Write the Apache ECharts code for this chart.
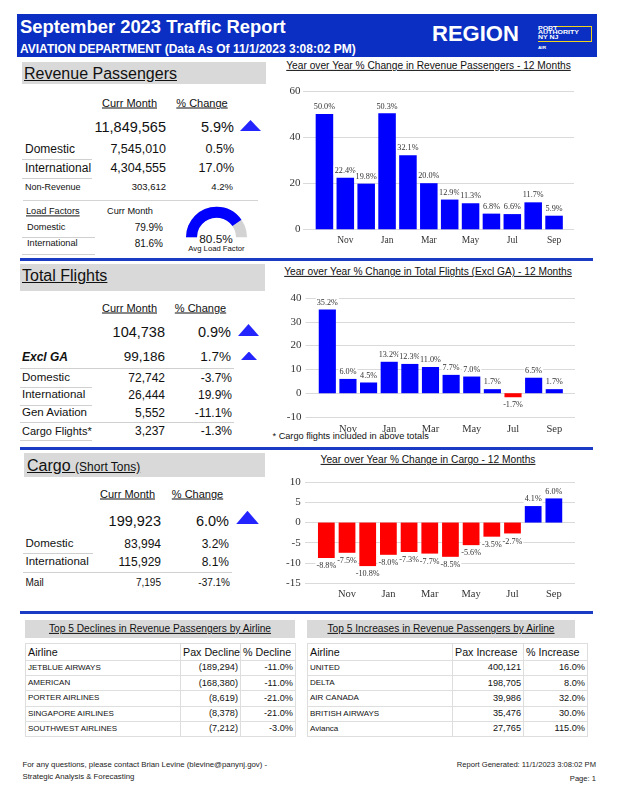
<!DOCTYPE html>
<html><head><meta charset="utf-8">
<script src="https://cdn.jsdelivr.net/npm/echarts@6/dist/echarts.min.js"></script>
<style>
html,body{margin:0;padding:0;background:#fff;}
#page{position:relative;width:618px;height:800px;overflow:hidden;font-family:'Liberation Sans',Arial,sans-serif;color:#111;}
.t{position:absolute;white-space:nowrap;line-height:1;}
.box{position:absolute;}
#c{position:absolute;left:0;top:0;width:618px;height:800px;}
table{border-collapse:collapse;table-layout:fixed;position:absolute;background:#fff;}
td{border:1.5px solid #dedede;padding:0 2px;overflow:hidden;white-space:nowrap;line-height:1;}
</style></head><body><div id="page"></div>
<script>
// ---------------- DATA ----------------
const months = ['Oct','Nov','Dec','Jan','Feb','Mar','Apr','May','Jun','Jul','Aug','Sep'];
const paxYoY = [50.0,22.4,19.8,50.3,32.1,20.0,12.9,11.3,6.8,6.6,11.7,5.9];
const flightsYoY = [35.2,6.0,4.5,13.2,12.3,11.0,7.7,7.0,1.7,-1.7,6.5,1.7];
const cargoYoY = [-8.8,-7.5,-10.8,-8.0,-7.3,-7.7,-8.5,-5.6,-3.5,-2.7,4.1,6.0];

const paxTotal = ['11,849,565','5.9%'];
const paxRowLabels = ['Domestic','International','Non-Revenue'];
const paxRowValues = ['7,545,010','4,304,555','303,612'];
const paxRowPct = ['0.5%','17.0%','4.2%'];
const loadFactorLabels = ['Domestic','International'];
const loadFactorValues = [79.9, 81.6];
const avgLoadFactor = 80.5;

const flightsTotal = ['104,738','0.9%'];
const flightsExclGA = ['99,186','1.7%'];
const flightRowLabels = ['Domestic','International','Gen Aviation','Cargo Flights*'];
const flightRowValues = ['72,742','26,444','5,552','3,237'];
const flightRowPct = ['-3.7%','19.9%','-11.1%','-1.3%'];

const cargoTotal = ['199,923','6.0%'];
const cargoRowLabels = ['Domestic','International','Mail'];
const cargoRowValues = ['83,994','115,929','7,195'];
const cargoRowPct = ['3.2%','8.1%','-37.1%'];

const declineAirlines = ['JETBLUE AIRWAYS','AMERICAN','PORTER AIRLINES','SINGAPORE AIRLINES','SOUTHWEST AIRLINES'];
const declinePax = [-189294,-168380,-8619,-8378,-7212];
const declinePct = [-11.0,-11.0,-21.0,-21.0,-3.0];
const increaseAirlines = ['UNITED','DELTA','AIR CANADA','BRITISH AIRWAYS','Avianca'];
const increasePax = [400121,198705,39986,35476,27765];
const increasePct = [16.0,8.0,32.0,30.0,115.0];

// ---------------- HELPERS ----------------
const page = document.getElementById('page');
function T(s, x, y, size, o) {
  o = o || {};
  const d = document.createElement('div'); d.className = 't'; d.textContent = s;
  d.style.left = x + 'px'; d.style.top = y + 'px'; d.style.fontSize = size + 'px';
  const a = o.align || 'left';
  const tx = a === 'left' ? '0' : a === 'right' ? '-100%' : '-50%';
  d.style.transform = 'translate(' + tx + ',-50%)' + (o.sx ? ' scaleX(' + o.sx + ')' : '');
  if (o.sx) d.style.transformOrigin = '0 50%';
  if (o.bold) d.style.fontWeight = 'bold';
  if (o.italic) d.style.fontStyle = 'italic';
  if (o.u) d.style.textDecoration = 'underline';
  if (o.color) d.style.color = o.color;
  page.appendChild(d); return d;
}
function R(x, y, w, h, c) {
  const d = document.createElement('div'); d.className = 'box';
  Object.assign(d.style, {left: x + 'px', top: y + 'px', width: w + 'px', height: h + 'px', background: c});
  page.appendChild(d); return d;
}
function tri(x1, x2, yTop, yBot) {
  const d = R(x1, yTop, x2 - x1, yBot - yTop, '#2424ff');
  d.style.clipPath = 'polygon(50% 0,100% 100%,0 100%)';
}
function hl(x1, x2, y, c, w) { R(x1, y, x2 - x1, w || 1, c || '#d0d0d0'); }
const fmtInt = n => Math.abs(n).toLocaleString('en-US');
const fmtPct = v => v.toFixed(1) + '%';

// ---------------- HEADER ----------------
const BLUE = '#0b2fc2';
R(17, 14, 580, 43, BLUE);
T('September 2023 Traffic Report', 20, 27, 18.4, {bold: true, color: '#fff'});
T('AVIATION DEPARTMENT (Data As Of 11/1/2023 3:08:02 PM)', 20, 48.5, 12, {bold: true, color: '#fff'});
T('REGION', 432, 34, 22, {bold: true, color: '#fff'});
// logo
const YEL = '#f0d21c';
R(553, 25.5, 39, 1.3, YEL);
R(590.7, 25.5, 1.3, 16, YEL);
R(538, 40.5, 54, 1.3, YEL);
T('PORT', 538, 27.6, 5, {bold: true, color: '#fff', sx: 1.4});
T('AUTHORITY', 538, 32.4, 5, {bold: true, color: '#fff', sx: 1.4});
T('NY NJ', 538, 37.1, 5, {bold: true, color: '#fff', sx: 1.4});
T('AIR', 538, 48.7, 3.6, {bold: true, color: '#fff', sx: 1.3});

// section separators
const SEP = '#1a3bc4';
R(20, 258, 573, 3, SEP);
R(20, 447, 573, 2.5, SEP);
R(20, 611, 573, 3, SEP);

// ---------------- REVENUE PASSENGERS ----------------
R(22, 62, 244, 22, '#d9d9d9');
T('Revenue Passengers', 24, 73.5, 16, {u: true});
T('Curr Month', 129.5, 103.3, 11, {u: true, align: 'center'});
T('% Change', 202, 103.3, 11, {u: true, align: 'center'});
T(paxTotal[0], 166, 126.7, 14.5, {align: 'right'});
T(paxTotal[1], 234, 126.7, 14.5, {align: 'right'});
tri(240, 261, 120, 131);
const paxY = [149.3, 168.3, 187.3];
paxRowLabels.forEach((l, i) => {
  const sz = i < 2 ? 12 : 9;
  T(l, 25, paxY[i], sz);
  T(paxRowValues[i], 166, paxY[i], i < 2 ? 12.5 : 9.5, {align: 'right'});
  T(paxRowPct[i], i < 2 ? 234 : 233, paxY[i], i < 2 ? 12.5 : 9.5, {align: 'right'});
});
hl(22, 92, 159); hl(22, 92, 177.5);
hl(23, 258, 199.5, '#d4d4d4', 1.5);
T('Load Factors', 26, 211.7, 9.2, {u: true});
T('Curr Month', 107, 211.7, 9.2);
const lfY = [227.7, 244.3];
loadFactorLabels.forEach((l, i) => {
  T(l, 27, lfY[i], 9.2);
  T(fmtPct(loadFactorValues[i]), 163, lfY[i], 10, {align: 'right'});
});
hl(22, 95, 236.5); hl(22, 95, 253.5);
T(fmtPct(avgLoadFactor), 216, 239.5, 11.8, {align: 'center'});
T('Avg Load Factor', 216.5, 248.5, 7.7, {align: 'center'});

// ---------------- TOTAL FLIGHTS ----------------
R(20, 264, 245, 27, '#d9d9d9');
T('Total Flights', 22, 276, 16, {u: true});
T('Curr Month', 129.5, 308.3, 11, {u: true, align: 'center'});
T('% Change', 200.5, 308.3, 11, {u: true, align: 'center'});
T(flightsTotal[0], 165, 332.3, 14.5, {align: 'right'});
T(flightsTotal[1], 231, 332.3, 14.5, {align: 'right'});
tri(238, 259, 324, 336);
T('Excl GA', 22, 357.3, 12, {bold: true, italic: true});
T(flightsExclGA[0], 165, 357.3, 13.5, {align: 'right'});
T(flightsExclGA[1], 231, 357.3, 13.5, {align: 'right'});
tri(241, 257, 351.5, 360);
hl(20, 234, 368);
const flY = [377.7, 395.3, 413, 431];
flightRowLabels.forEach((l, i) => {
  T(l, 22, flY[i], i === 3 ? 11 : 11.5);
  T(flightRowValues[i], 165, flY[i], 12, {align: 'right'});
  T(flightRowPct[i], 232, flY[i], 12, {align: 'right'});
});
hl(20, 92, 386.5); hl(20, 92, 404.7); hl(20, 234, 422); hl(20, 92, 440);
T('* Cargo flights included in above totals', 272.5, 437, 9.2);

// ---------------- CARGO ----------------
R(24, 453, 241, 24, '#d9d9d9');
const cg = T('Cargo ', 27, 465.7, 16, {u: true});
const sp = document.createElement('span'); sp.textContent = '(Short Tons)'; sp.style.fontSize = '12px'; cg.appendChild(sp);
T('Curr Month', 127.5, 494.3, 11, {u: true, align: 'center'});
T('% Change', 197.5, 494.3, 11, {u: true, align: 'center'});
T(cargoTotal[0], 161, 521, 14.5, {align: 'right'});
T(cargoTotal[1], 229, 521, 14.5, {align: 'right'});
tri(236, 259, 510.7, 524.3);
const cgY = [544, 562.3, 582.7];
cargoRowLabels.forEach((l, i) => {
  const sz = i < 2 ? 11.5 : 10;
  T(l, 25.5, cgY[i], sz);
  T(cargoRowValues[i], 161, cgY[i], i < 2 ? 12 : 10, {align: 'right'});
  T(cargoRowPct[i], i < 2 ? 229 : 230, cgY[i], i < 2 ? 12 : 10, {align: 'right'});
});
hl(23, 93, 553); hl(23, 232, 571.5);

// ---------------- CHART TITLES ----------------
T('Year over Year % Change in Revenue Passengers - 12 Months', 428.5, 65.7, 10.2, {u: true, align: 'center'});
T('Year over Year % Change in Total Flights (Excl GA) - 12 Months', 428, 272, 10.2, {u: true, align: 'center'});
T('Year over Year % Change in Cargo - 12 Months', 428, 460.3, 10.2, {u: true, align: 'center'});

// ---------------- TABLES ----------------
function makeTable(x, titleText, titleX2, colW, headers, names, pax, pct) {
  const w = colW.reduce((a, b) => a + b, 0);
  R(x, 620, titleX2 - x, 18, '#d9d9d9');
  T(titleText, (x + titleX2) / 2, 629, 10.2, {u: true, align: 'center'});
  const t = document.createElement('table');
  t.style.left = x + 'px'; t.style.top = '643px'; t.style.width = w + 'px';
  const cg = document.createElement('colgroup');
  colW.forEach(cw => { const c = document.createElement('col'); c.style.width = cw + 'px'; cg.appendChild(c); });
  t.appendChild(cg);
  const hr = document.createElement('tr'); hr.style.height = '17px';
  headers.forEach(h => { const td = document.createElement('td'); td.textContent = h; td.style.fontSize = '10.7px'; hr.appendChild(td); });
  t.appendChild(hr);
  names.forEach((n, i) => {
    const tr = document.createElement('tr'); tr.style.height = '15.2px';
    const cells = [n, pax[i] < 0 ? '(' + fmtInt(pax[i]) + ')' : fmtInt(pax[i]), fmtPct(pct[i])];
    cells.forEach((c, j) => {
      const td = document.createElement('td'); td.textContent = c;
      td.style.fontSize = j === 0 ? '8px' : '9.2px';
      if (j > 0) td.style.textAlign = 'right';
      tr.appendChild(td);
    });
    t.appendChild(tr);
  });
  page.appendChild(t);
}
makeTable(25, 'Top 5 Declines in Revenue Passengers by Airline', 295, [155, 60, 55],
  ['Airline', 'Pax Decline', '% Decline'], declineAirlines, declinePax, declinePct);
makeTable(307, 'Top 5 Increases in Revenue Passengers by Airline', 575, [145, 71, 64],
  ['Airline', 'Pax Increase', '% Increase'], increaseAirlines, increasePax, increasePct);

// ---------------- FOOTER ----------------
T('For any questions, please contact Brian Levine (blevine@panynj.gov) -', 22.5, 765, 7.8, {color: '#222'});
T('Strategic Analysis & Forecasting', 22.5, 777, 7.8, {color: '#222'});
T('Report Generated: 11/1/2023 3:08:02 PM', 596, 765, 7.6, {align: 'right', color: '#222'});
T('Page: 1', 596, 778.5, 7.6, {align: 'right', color: '#222'});

// ---------------- ECHARTS ----------------
const cdiv = document.createElement('div'); cdiv.id = 'c'; page.appendChild(cdiv);
const chart = echarts.init(cdiv, null, {renderer: 'canvas'});
const SERIF = 'Liberation Serif';
const specs = [
  {data: paxYoY, wideL: 303, wideR: 44, narL: 314, narR: 53.5, top: 91, bottom: 570.7, min: 0, max: 60, step: 20, ylm: 2.5, catSize: 9.5, catM: 6, gap: '16%'},
  {data: flightsYoY, wideL: 305.5, wideR: 43, narL: 317, narR: 53.4, top: 298, bottom: 383, min: -10, max: 40, step: 10, ylm: 4, catSize: 10.5, catM: 6.5, gap: '17%'},
  {data: cargoYoY, wideL: 305, wideR: 43, narL: 316, narR: 53.8, top: 482.3, bottom: 217, min: -15, max: 10, step: 5, ylm: 4.3, catSize: 10.5, catM: 6, gap: '19%'}
];
const grid = [], xAxis = [], yAxis = [], series = [];
specs.forEach((s, k) => {
  const gw = grid.length, gn = gw + 1;
  grid.push({left: s.wideL, right: s.wideR, top: s.top, bottom: s.bottom});
  grid.push({left: s.narL, right: s.narR, top: s.top, bottom: s.bottom});
  xAxis.push({gridIndex: gw, type: 'value', min: 0, max: 1, show: false});
  yAxis.push({gridIndex: gw, type: 'value', min: s.min, max: s.max, interval: s.step,
    axisLine: {show: false}, axisTick: {show: false},
    axisLabel: {fontFamily: SERIF, fontSize: 11, color: '#333', margin: s.ylm},
    splitLine: {lineStyle: {color: '#dadada', width: 1}}});
  xAxis.push({gridIndex: gn, type: 'category', data: months,
    axisLine: {show: false, onZero: false}, axisTick: {show: false},
    axisLabel: {interval: i => i % 2 === 1, fontFamily: SERIF, fontSize: s.catSize, color: '#333', margin: s.catM}});
  yAxis.push({gridIndex: gn, type: 'value', min: s.min, max: s.max, interval: s.step, show: false, splitLine: {show: false}});
  series.push({type: 'bar', xAxisIndex: gn, yAxisIndex: gn, data: s.data, barCategoryGap: s.gap,
    itemStyle: {color: p => p.value < 0 ? '#ff0000' : '#0000ff'},
    label: {show: true, position: 'outside', distance: 3, formatter: p => fmtPct(p.value),
      fontFamily: SERIF, fontSize: 8.2, color: '#333', backgroundColor: '#fff', padding: [1, 1, 0, 1]},
    animation: false});
});
series.push({type: 'gauge', center: [216.5, 237.2], radius: 30.5, startAngle: 180, endAngle: 0, min: 0, max: 100,
  axisLine: {lineStyle: {width: 11, color: [[1, '#d3d3d3']]}},
  progress: {show: true, width: 11, itemStyle: {color: '#0000ff'}},
  pointer: {show: false}, axisTick: {show: false}, splitLine: {show: false}, axisLabel: {show: false},
  detail: {show: false}, title: {show: false}, anchor: {show: false},
  data: [{value: avgLoadFactor}], animation: false});
chart.setOption({animation: false, grid, xAxis, yAxis, series});
</script></body></html>
